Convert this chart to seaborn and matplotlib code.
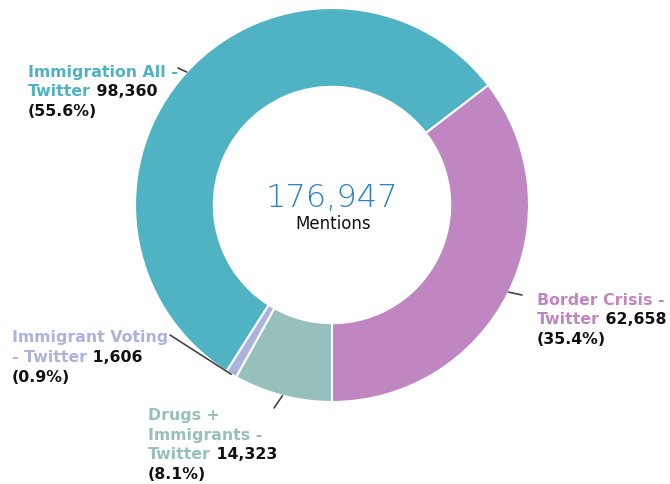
import matplotlib
matplotlib.use("Agg")
import matplotlib.pyplot as plt
import seaborn as sns
import numpy as np

sns.set_theme(style="white")
plt.rcParams['font.family'] = ['DejaVu Sans']

# ---- data ----
categories = ["Drugs + Immigrants - Twitter", "Immigrant Voting - Twitter",
              "Immigration All - Twitter", "Border Crisis - Twitter"]
values = [14323, 1606, 98360, 62658]
percents = ["8.1%", "0.9%", "55.6%", "35.4%"]
colors = ["#97bfbb", "#abb3dd", "#4fb3c4", "#c086c1"]
total_label = "176,947"
center_sub = "Mentions"

# label text lines: list of (colored part, black part)
label_lines = {
    "Immigration All - Twitter": [("Immigration All -", ""), ("Twitter", " 98,360"), ("", "(55.6%)")],
    "Border Crisis - Twitter": [("Border Crisis -", ""), ("Twitter", " 62,658"), ("", "(35.4%)")],
    "Immigrant Voting - Twitter": [("Immigrant Voting", ""), ("- Twitter", " 1,606"), ("", "(0.9%)")],
    "Drugs + Immigrants - Twitter": [("Drugs +", ""), ("Immigrants -", ""), ("Twitter", " 14,323"), ("", "(8.1%)")],
}

# ---- layout (pixels) ----
W, H = 670, 484
label_anchor = {  # left x, first baseline y, line step
    "Immigration All - Twitter": (28, 77, 19.5),
    "Border Crisis - Twitter": (537, 305, 19.5),
    "Immigrant Voting - Twitter": (12, 342, 20),
    "Drugs + Immigrants - Twitter": (148, 420, 19.7),
}
line_end = {
    "Immigration All - Twitter": (178, 68),
    "Border Crisis - Twitter": (522, 295),
    "Immigrant Voting - Twitter": (170, 335),
    "Drugs + Immigrants - Twitter": (274, 408),
}

def ff(px, py):
    return (px / W, 1 - py / H)

fig = plt.figure(figsize=(W / 100, H / 100), dpi=100)
cx, cy, R = 332, 205, 197
ax = fig.add_axes([(cx - R) / W, (H - cy - R) / H, 2 * R / W, 2 * R / H])

wedges, _ = ax.pie(values, colors=colors, startangle=-90, counterclock=False,
                   radius=1.0,
                   wedgeprops=dict(width=0.4, edgecolor="white", linewidth=1.5))
ax.set_xlim(-1, 1)
ax.set_ylim(-1, 1)
ax.set_aspect("equal")
ax.axis("off")

fs = 11.3
for w, cat, col in zip(wedges, categories, colors):
    mid = np.deg2rad((w.theta1 + w.theta2) / 2)
    edge = (np.cos(mid), np.sin(mid))
    ax.annotate("", xy=edge, xycoords="data", xytext=ff(*line_end[cat]),
                textcoords="figure fraction",
                arrowprops=dict(arrowstyle="-", color="#444444", lw=1.2,
                                shrinkA=0, shrinkB=0))
    x0, y0, step = label_anchor[cat]
    for i, (cpart, bpart) in enumerate(label_lines[cat]):
        y = y0 + i * step
        if cpart:
            t = fig.text(*ff(x0, y), cpart, color=col, fontsize=fs,
                         fontweight="bold", va="baseline", ha="left")
            if bpart:
                ax.annotate(bpart, xy=(1, 0), xycoords=t, va="bottom", ha="left",
                            fontsize=fs, fontweight="bold", color="#111111",
                            annotation_clip=False)
        else:
            fig.text(*ff(x0, y), bpart, color="#111111", fontsize=fs,
                     fontweight="bold", va="baseline", ha="left")

fig.text(*ff(332, 198), total_label, color="#2f80cb", fontsize=23,
         fontweight=200, ha="center", va="center")
fig.text(*ff(333, 224), center_sub, color="#111111", fontsize=12,
         ha="center", va="center")

fig.savefig("out.png", dpi=100, facecolor="white")
